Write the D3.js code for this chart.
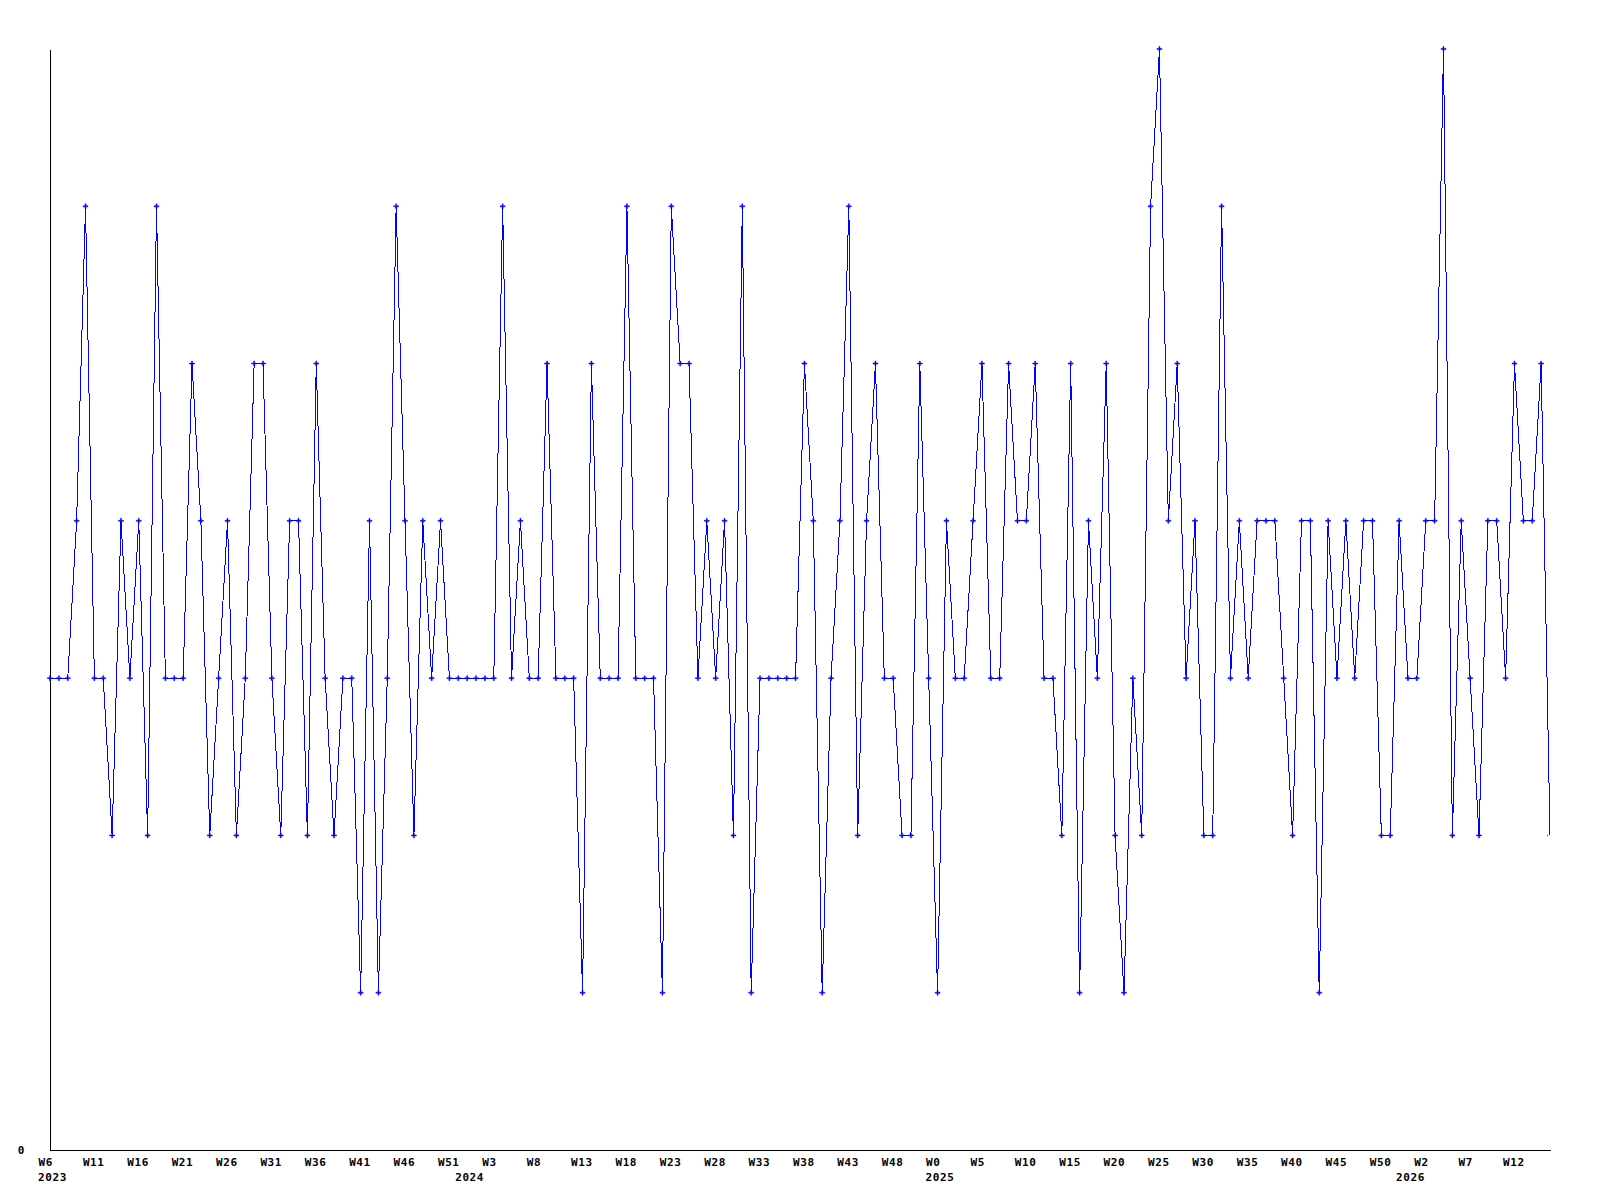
<!DOCTYPE html>
<html>
<head>
<meta charset="utf-8">
<script src="https://cdn.jsdelivr.net/npm/d3@7"></script>
<style>
  html, body { margin: 0; padding: 0; background: #fff; }
  svg { display: block; }
  text { font-family: "DejaVu Sans Mono", "Liberation Mono", monospace; font-weight: bold; font-size: 11px; letter-spacing: 0.6px; fill: #000; }
</style>
</head>
<body>
<svg id="chart" width="1600" height="1200"></svg>
<script>
// Weekly values, one per week starting at W6 2023
const values = [
  3,3,3,4,6,3,3,2,4,3,4,2,6,3,3,3,5,4,2,3,4,2,3,5,5,3,2,4,4,2,5,3,2,3,3,1,4,1,3,6,4,2,4,3,4,3,
  3,3,3,3,3,6,3,4,3,3,5,3,3,3,1,5,3,3,3,6,3,3,3,1,6,5,5,3,4,3,4,2,6,1,3,3,3,3,3,5,4,1,3,4,6,
  2,4,5,3,3,2,2,5,3,1,4,3,3,4,5,3,3,5,4,4,5,3,3,2,5,1,
  4,3,5,2,1,3,2,6,7,4,5,3,4,2,2,6,3,4,3,4,4,4,3,2,4,4,
  1,4,3,4,3,4,4,2,2,4,3,3,4,4,7,2,4,3,2,4,4,3,5,4,4,5,2
];
// Week tick labels (every 5th point)
const weekTickLabels = ["W6","W11","W16","W21","W26","W31","W36","W41","W46","W51",
  "W3","W8","W13","W18","W23","W28","W33","W38","W43","W48",
  "W0","W5","W10","W15","W20","W25","W30","W35","W40","W45","W50",
  "W2","W7","W12"];
const weekTickStep = 5;
// Year labels and the point index where each year begins
const yearLabels = ["2023","2024","2025","2026"];
const yearStartIndex = [0, 47, 100, 153];
const yTickValues = [0];

(function () {
const svg = d3.select("#chart");
const mL = 50, mR = 1550, mT = 49, mB = 1150;

const x = d3.scaleLinear().domain([0, values.length - 1]).range([mL, mR]);
const y = d3.scaleLinear().domain([0, 7]).range([mB, mT]);

// Axes
const tickIdx = weekTickLabels.map((_, i) => i * weekTickStep);
const xAxis = d3.axisBottom(x).tickValues(tickIdx)
  .tickFormat((d, i) => weekTickLabels[i]).tickSize(0).tickSizeOuter(0);
const gx = svg.append("g").attr("transform", `translate(0,${mB})`).call(xAxis);
gx.attr("font-family", null).attr("font-size", null);
gx.select(".domain").attr("stroke", "#000").attr("stroke-width", 1).attr("shape-rendering", "crispEdges");
gx.selectAll(".tick text").attr("text-anchor", "start").attr("x", -12).attr("y", 16).attr("dy", null)
  .attr("fill", "#000");

const years = svg.append("g").attr("transform", `translate(0,${mB})`);
years.selectAll("text").data(yearLabels).join("text")
  .attr("x", (d, i) => x(yearStartIndex[i]) - 12)
  .attr("y", 31)
  .text(d => d);

const yAxis = d3.axisLeft(y).tickValues(yTickValues).tickFormat(d3.format("d")).tickSize(0).tickSizeOuter(0).tickPadding(25);
const gy = svg.append("g").attr("transform", `translate(${mL},0)`).call(yAxis);
gy.attr("font-family", null).attr("font-size", null);
gy.select(".domain").attr("stroke", "#000").attr("stroke-width", 1).attr("shape-rendering", "crispEdges");
gy.selectAll(".tick text").attr("dy", "0.35em").attr("fill", "#000");

// Line
const line = d3.line().x((d, i) => x(i)).y(d => y(d));
svg.append("path").datum(values)
  .attr("d", line)
  .attr("fill", "none")
  .attr("stroke", "#0000ff")
  .attr("stroke-width", 1)
  .attr("shape-rendering", "crispEdges");

// Markers (clipped at the right edge of the plot)
svg.append("clipPath").attr("id", "clipM").append("rect")
  .attr("x", 0).attr("y", 0).attr("width", mR - 2).attr("height", 1200);
svg.append("g").attr("clip-path", "url(#clipM)")
  .selectAll("path").data(values).join("path")
  .attr("transform", (d, i) => `translate(${x(i)},${y(d)})`)
  .attr("d", "M-2.5,-0.5H-0.5V-2.5H0.5V-0.5H2.5V0.5H0.5V2.5H-0.5V0.5H-2.5Z")
  .attr("fill", "#0000ff")
  .attr("stroke", "#0000ff")
  .attr("stroke-width", 0.5);
})();
</script>
</body>
</html>
